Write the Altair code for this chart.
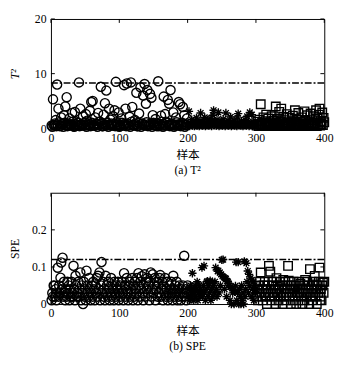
import altair as alt
import pandas as pd

# ---------------- data ----------------
x_ticks = [0, 100, 200, 300, 400]
t2_ticks = [0, 10, 20]
spe_ticks = [0, 0.1, 0.2]
t2_limit = [8.3]
spe_limit = [0.12]

# T^2, circles, odd samples 1,3,...,199
t2_circ_odd = [0.5,5.3,0.6,1.5,8.0,3.6,0.4,2.0,0.7,2.4, 4.0,5.7,0.5,1.8,0.6,2.8,0.4,3.0,1.2,0.5,
               8.4,3.6,0.7,2.2,0.5,2.6,1.4,0.6,3.2,4.8, 5.0,0.5,2.0,0.8,2.8,1.2,7.6,0.4,2.5,4.6,
               6.9,0.6,3.6,1.6,0.5,2.2,3.3,8.5,0.6,2.9, 0.4,1.8,0.7,7.9,3.6,8.2,0.5,2.1,8.4,3.9,
               0.6,1.5,6.5,0.4,2.7,7.5,0.8,6.0,8.1,4.5, 7.0,0.5,6.3,5.6,2.4,0.6,1.7,0.4,8.6,0.7,
               2.3,0.5,5.8,2.6,1.2,5.2,4.5,7.0,0.6,2.9, 0.5,2.0,0.7,4.8,4.4,0.5,3.9,2.4,0.6,1.8]
# T^2, circles, even samples 2,4,...,200
t2_circ_even = [0.3,0.6,0.9,0.4,0.7,1.1,0.5,0.8,0.3,1.0, 0.6,0.4,0.9,0.7,0.5,1.2,0.3,0.8,0.6,1.0,
                0.4,0.7,0.5,0.9,1.1,0.3,0.6,0.8,0.4,1.0, 0.7,0.5,0.9,0.3,0.6,1.2,0.8,0.4,0.7,0.5,
                1.0,0.3,0.6,0.9,0.5,0.8,0.4,1.1,0.7,0.3, 0.6,1.0,0.5,0.8,0.4,0.9,0.7,0.3,1.2,0.6,
                0.5,0.8,0.4,1.0,0.7,0.3,0.9,0.6,0.5,1.1, 0.4,0.8,0.7,0.3,1.0,0.6,0.5,0.9,0.4,0.8,
                1.2,0.3,0.7,0.5,1.0,0.6,0.4,0.9,0.8,0.3, 0.6,1.1,0.5,0.7,0.4,1.0,0.8,0.3,0.6,0.9]
# T^2, stars, samples 201..300
t2_star = [0.6,3.1,0.4,1.0,0.7,1.6,0.5,0.9,1.3,0.4, 0.8,0.6,1.9,0.5,1.1,0.7,0.4,1.4,2.8,0.6,
           0.9,0.5,1.2,0.7,2.0,0.4,1.0,0.6,1.5,0.8, 0.5,1.1,0.7,1.8,0.4,0.9,2.4,3.3,0.6,1.2,
           0.8,0.5,1.6,0.7,2.9,0.4,1.0,0.6,1.3,0.9, 0.5,1.7,0.7,1.1,0.4,2.8,0.8,0.6,1.4,0.5,
           0.9,0.7,2.1,0.4,1.2,0.6,0.8,1.5,0.5,1.0, 0.7,0.4,1.9,2.7,0.6,1.1,0.8,0.5,1.3,0.7,
           0.4,1.0,0.6,1.6,0.8,0.5,2.2,0.7,1.2,0.4, 2.9,0.6,0.9,2.5,0.5,1.1,0.7,0.4,1.0,0.6]
# T^2, squares, samples 301..400
t2_sq = [0.5,1.2,0.8,0.4,1.6,0.7,4.4,0.6,1.0,0.5, 2.0,0.8,0.4,1.3,2.5,0.7,0.5,1.8,0.9,0.6,
         1.1,0.4,2.2,0.7,0.5,1.4,0.8,0.6,4.0,1.0, 0.5,1.7,0.7,3.0,0.4,1.2,3.6,0.6,0.9,2.1,
         0.5,1.5,0.8,0.4,2.6,0.7,1.1,0.5,1.9,0.6, 0.9,0.4,1.3,2.3,0.7,0.5,3.3,1.0,0.6,1.6,
         0.4,2.8,0.8,0.5,1.2,0.7,2.0,0.6,0.9,0.4, 3.1,1.4,0.7,0.5,2.4,0.8,0.6,1.1,0.4,2.7,
         0.7,1.5,0.5,0.9,2.2,0.6,1.0,3.3,0.4,1.8, 0.7,2.5,3.6,0.5,1.3,0.8,2.9,0.6,1.9,1.1]

# SPE, circles, samples 1..200
spe_circ = [0.01,0.03,0.02,0.05,0.049,0.02,0.04,0.01,0.03,0.098, 0.02,0.05,0.03,0.071,0.112,0.04,0.125,0.02,0.06,0.03,
            0.01,0.04,0.02,0.06,0.03,0.05,0.01,0.04,0.02,0.06, 0.03,0.02,0.103,0.04,0.01,0.076,0.05,0.02,0.03,0.06,
            0.02,0.04,0.085,0.01,0.05,0.03,0.0,0.06,0.02,0.04, 0.01,0.09,0.03,0.05,0.02,0.07,0.04,0.01,0.03,0.05,
            0.02,0.06,0.04,0.01,0.05,0.03,0.07,0.02,0.076,0.04, 0.085,0.01,0.05,0.113,0.03,0.06,0.02,0.04,0.01,0.076,
            0.03,0.05,0.02,0.06,0.04,0.01,0.03,0.07,0.02,0.05, 0.04,0.01,0.06,0.03,0.02,0.05,0.04,0.06,0.01,0.03,
            0.05,0.02,0.04,0.06,0.03,0.01,0.083,0.05,0.02,0.04, 0.07,0.03,0.01,0.05,0.06,0.02,0.04,0.03,0.07,0.01,
            0.05,0.02,0.06,0.04,0.03,0.07,0.01,0.083,0.05,0.02, 0.06,0.04,0.075,0.03,0.01,0.05,0.08,0.02,0.06,0.04,
            0.07,0.03,0.05,0.01,0.06,0.085,0.02,0.04,0.08,0.03, 0.05,0.07,0.01,0.04,0.06,0.02,0.05,0.03,0.07,0.078,
            0.02,0.04,0.06,0.01,0.05,0.03,0.07,0.02,0.04,0.06, 0.01,0.03,0.05,0.02,0.04,0.06,0.03,0.01,0.076,0.04,
            0.02,0.05,0.03,0.06,0.01,0.04,0.02,0.05,0.03,0.01, 0.04,0.02,0.05,0.03,0.13,0.02,0.04,0.01,0.03,0.05]
# SPE, stars, samples 201..300
spe_star = [0.02,0.04,0.01,0.05,0.03,0.02,0.083,0.04,0.01,0.03, 0.05,0.02,0.04,0.06,0.01,0.03,0.05,0.02,0.04,0.03,
            0.098,0.02,0.05,0.103,0.03,0.01,0.04,0.06,0.062,0.02, 0.05,0.03,0.063,0.01,0.04,0.06,0.02,0.05,0.03,0.06,
            0.098,0.04,0.02,0.088,0.09,0.03,0.085,0.05,0.08,0.119, 0.075,0.12,0.072,0.04,0.07,0.068,0.02,0.062,0.06,0.055,
            0.05,0.01,0.046,0.0,0.042,0.03,0.037,0.0,0.033,0.049, 0.113,0.01,0.03,0.113,0.0,0.04,0.02,0.0,0.05,0.01,
            0.03,0.0,0.115,0.02,0.04,0.11,0.06,0.089,0.03,0.08, 0.05,0.07,0.02,0.065,0.04,0.06,0.01,0.05,0.03,0.04]
# SPE, squares, samples 301..400
spe_sq = [0.02,0.04,0.01,0.05,0.03,0.06,0.085,0.02,0.04,0.01, 0.05,0.03,0.06,0.02,0.04,0.0,0.05,0.03,0.103,0.02,
          0.087,0.04,0.01,0.06,0.03,0.05,0.02,0.04,0.0,0.07, 0.03,0.05,0.01,0.04,0.06,0.02,0.03,0.05,0.0,0.065,
          0.02,0.04,0.06,0.01,0.03,0.05,0.103,0.063,0.02,0.04, 0.0,0.05,0.03,0.01,0.06,0.04,0.02,0.05,0.0,0.03,
          0.04,0.01,0.06,0.03,0.055,0.02,0.04,0.0,0.05,0.03, 0.01,0.065,0.04,0.02,0.06,0.03,0.05,0.0,0.094,0.02,
          0.04,0.01,0.06,0.03,0.05,0.076,0.02,0.04,0.0,0.05, 0.03,0.06,0.098,0.02,0.04,0.01,0.05,0.058,0.03,0.06]

# ---------------- styling ----------------
SERIF = "Liberation Serif, Noto Sans CJK SC"
W = 280
ASTERISK = "M-1,0L1,0M0,-1L0,1M-0.7,-0.7L0.7,0.7M-0.7,0.7L0.7,-0.7"
SW = 1.4


def panel(circ_x, circ_y, star_y, sq_y, limit, yticks, ydom, ytitle, ytfmt,
          caption, H, ytitle_pad, ytitle_style):
    xs = alt.Scale(domain=[0, 400], nice=False, zero=False)
    ys = alt.Scale(domain=ydom, nice=False)
    xaxis = alt.Axis(values=x_ticks, title="样本", ticks=False, domain=False,
                     labelPadding=4, titlePadding=7, labelFlush=False)
    yaxis = alt.Axis(values=yticks, title=ytitle, ticks=False, domain=False,
                     format=ytfmt, labelPadding=5, titlePadding=ytitle_pad,
                     titleFontStyle=ytitle_style)
    X = alt.X("sample:Q", scale=xs, axis=xaxis)
    Y = alt.Y("value:Q", scale=ys, axis=yaxis)

    d_c = pd.DataFrame({"sample": circ_x, "value": circ_y})
    d_s = pd.DataFrame({"sample": list(range(201, 301)), "value": star_y})
    d_q = pd.DataFrame({"sample": list(range(301, 401)), "value": sq_y})
    d_l = pd.DataFrame({"value": limit})
    d_xt = pd.DataFrame({"sample": x_ticks})
    d_yt = pd.DataFrame({"value": yticks})

    circles = alt.Chart(d_c).mark_point(shape="circle", filled=False, size=88,
                                        color="black", strokeWidth=SW, opacity=1).encode(x=X, y=Y)
    stars = alt.Chart(d_s).mark_point(shape=ASTERISK, filled=False, size=72,
                                      color="black", strokeWidth=SW, opacity=1).encode(x=X, y=Y)
    squares = alt.Chart(d_q).mark_point(shape="square", filled=False, size=76,
                                        color="black", strokeWidth=SW, opacity=1).encode(x=X, y=Y)
    line = alt.Chart(d_l).mark_rule(color="black", strokeWidth=1.5,
                                    strokeDash=[7, 2, 2, 2]).encode(y=Y)
    tb = alt.Chart(d_xt).mark_rule(color="black", strokeWidth=1).encode(
        x=X, y=alt.value(H), y2=alt.value(H - 4))
    tt = alt.Chart(d_xt).mark_rule(color="black", strokeWidth=1).encode(
        x=X, y=alt.value(0), y2=alt.value(4))
    tl = alt.Chart(d_yt).mark_rule(color="black", strokeWidth=1).encode(
        y=Y, x=alt.value(0), x2=alt.value(4))
    tr = alt.Chart(d_yt).mark_rule(color="black", strokeWidth=1).encode(
        y=Y, x=alt.value(W - 4), x2=alt.value(W))

    return alt.layer(circles, stars, squares, line, tb, tt, tl, tr).properties(
        width=W, height=H,
        title=alt.TitleParams(text=caption, orient="bottom", font=SERIF,
                              fontSize=12, fontWeight="normal", color="black", offset=5))


circ_x_t2 = list(range(1, 200, 2)) + list(range(2, 201, 2))
circ_y_t2 = t2_circ_odd + t2_circ_even

top = panel(circ_x_t2, circ_y_t2, t2_star, t2_sq, t2_limit, t2_ticks, [0, 20],
            "T²", "d", "(a) T²", 112, 13, "italic")
bottom = panel(list(range(1, 201)), spe_circ, spe_star, spe_sq, spe_limit, spe_ticks,
               [0, 0.3], "SPE", "~g", "(b) SPE", 114, 10, "normal")

chart = alt.vconcat(top, bottom, spacing=15).properties(
    padding={"left": 0, "top": 0, "right": 2, "bottom": 0},
    background="white"
).configure_view(stroke="black", strokeWidth=1).configure_axis(
    grid=False, labelFont=SERIF, titleFont=SERIF, labelFontSize=12, titleFontSize=12,
    labelColor="black", titleColor="black", titleFontWeight="normal"
)

chart.save("out.html", embed_options={"renderer": "svg", "actions": False})
